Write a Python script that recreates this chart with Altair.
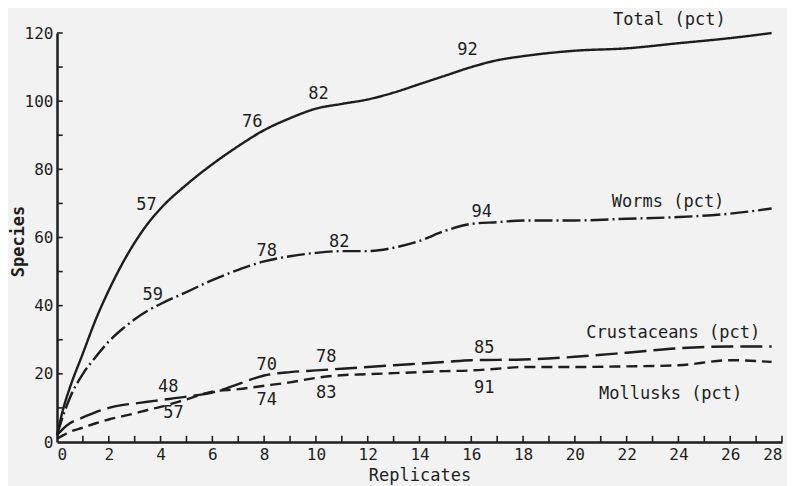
import altair as alt
import pandas as pd

# ---- data ----
reps = [0, 0.25, 0.5, 1, 1.5, 2, 2.5, 3, 3.5, 4, 5, 6, 7, 8, 9, 10, 11, 12, 13, 14, 15, 16, 17, 18, 20, 22, 24, 26, 27.6]
total = [2, 10, 16, 26, 36, 44.5, 52, 58.5, 64, 68.5, 75.5, 81.5, 86.8, 91.5, 95, 97.8, 99.2, 100.5, 102.5, 105, 107.5, 110, 112, 113.2, 114.8, 115.5, 117, 118.5, 120]
worms = [2, 8, 13, 20, 25, 29.5, 33, 36, 38.5, 40.5, 44, 47.5, 50.5, 53, 54.5, 55.5, 56, 56, 57, 59, 62, 64, 64.5, 65, 65, 65.5, 66, 67, 68.5]
crust = [2, 4, 5.5, 7.2, 8.8, 10, 10.8, 11.3, 11.8, 12.3, 13.3, 14.5, 17, 19.5, 20.5, 21, 21.5, 22, 22.5, 23, 23.5, 24, 24.1, 24.2, 25, 26.2, 27.5, 28, 28]
moll = [1, 2, 3, 4.2, 5.5, 6.6, 7.5, 8.4, 9.4, 10.3, 12.5, 14.8, 15.5, 16.5, 17.5, 18.8, 19.6, 19.9, 20.2, 20.5, 20.8, 21, 21.5, 22, 22, 22.2, 22.5, 24, 23.5]

series_names = ["Total", "Worms", "Crustaceans", "Mollusks"]
series_vals = [total, worms, crust, moll]
series_dash = [[1, 0], [18, 4, 2, 4], [22, 7], [11, 6]]

# percentage annotations (x, y, text)
ann_x = [3.46, 7.54, 10.1, 15.85, 3.7, 8.1, 10.9, 16.4, 4.3, 8.1, 10.4, 16.5, 4.5, 8.1, 10.4, 16.5]
ann_y = [69.5, 93.8, 102, 115, 43, 56, 58.7, 67.5, 16.2, 22.6, 25, 27.6, 8.5, 12.3, 14.4, 15.8]
ann_t = ["57", "76", "82", "92", "59", "78", "82", "94", "48", "70", "78", "85", "57", "74", "83", "91"]

# series labels
lab_x = [23.65, 23.6, 23.8, 23.7]
lab_y = [123.7, 70.4, 32, 14.1]
lab_t = ["Total (pct)", "Worms (pct)", "Crustaceans (pct)", "Mollusks (pct)"]

x_ticks = list(range(1, 29))
y_ticks = list(range(10, 121, 10))
x_labels = list(range(0, 29, 2))
y_labels = list(range(0, 121, 20))

INK = "#1e1e1e"
FONT = "DejaVu Sans Mono"

rows = []
for name, vals in zip(series_names, series_vals):
    for xv, yv in zip(reps, vals):
        rows.append({"series": name, "rep": xv, "species": yv})
df = pd.DataFrame(rows)

xs = alt.Scale(domain=[0, 28], nice=False, zero=True)
ys = alt.Scale(domain=[0, 120], nice=False)

layers = []
for name, dash in zip(series_names, series_dash):
    d = df[df.series == name]
    layers.append(
        alt.Chart(d).mark_line(color=INK, strokeWidth=2.4, strokeDash=dash, interpolate="monotone", clip=False)
        .encode(
            x=alt.X("rep:Q", scale=xs,
                    axis=alt.Axis(values=x_labels, ticks=False, domainWidth=2.5, domainColor=INK,
                                  labelFont=FONT, labelFontSize=16, labelColor=INK, labelPadding=4,
                                  grid=False, title="Replicates", titleFont=FONT, titleFontSize=17,
                                  titleFontWeight="normal", titleColor=INK, titlePadding=5)),
            y=alt.Y("species:Q", scale=ys,
                    axis=alt.Axis(values=y_labels, ticks=False, domainWidth=2.5, domainColor=INK,
                                  labelFont=FONT, labelFontSize=16, labelColor=INK, labelPadding=4,
                                  grid=False, title="Species", titleFont=FONT, titleFontSize=17,
                                  titleFontWeight="bold", titleColor=INK, titleAngle=-90,
                                  titleX=-39, titleY=208, titleAlign="center", titleBaseline="middle")),
        )
    )

xt = alt.Chart(pd.DataFrame({"t": x_ticks})).mark_rule(color=INK, strokeWidth=1.6).encode(
    x="t:Q", y=alt.datum(0), y2=alt.datum(1.8))
yt = alt.Chart(pd.DataFrame({"t": y_ticks})).mark_rule(color=INK, strokeWidth=1.6).encode(
    y="t:Q", x=alt.datum(0), x2=alt.datum(0.22))

ann = alt.Chart(pd.DataFrame({"x": ann_x, "y": ann_y, "t": ann_t})).mark_text(
    font=FONT, fontSize=17, color=INK, clip=False).encode(x="x:Q", y="y:Q", text="t:N")
labs = alt.Chart(pd.DataFrame({"x": lab_x, "y": lab_y, "t": lab_t})).mark_text(
    font=FONT, fontSize=17, color=INK, clip=False).encode(x="x:Q", y="y:Q", text="t:N")

chart = alt.layer(*layers, xt, yt, ann, labs).properties(
    width=725, height=409,
    autosize=alt.AutoSizeParams(type="none"),
    padding={"left": 49, "top": 25, "right": 5, "bottom": 44},
    background="#f2f2f2",
).configure_view(stroke=None)

chart.save("out.html", embed_options={"renderer": "svg", "actions": False})
